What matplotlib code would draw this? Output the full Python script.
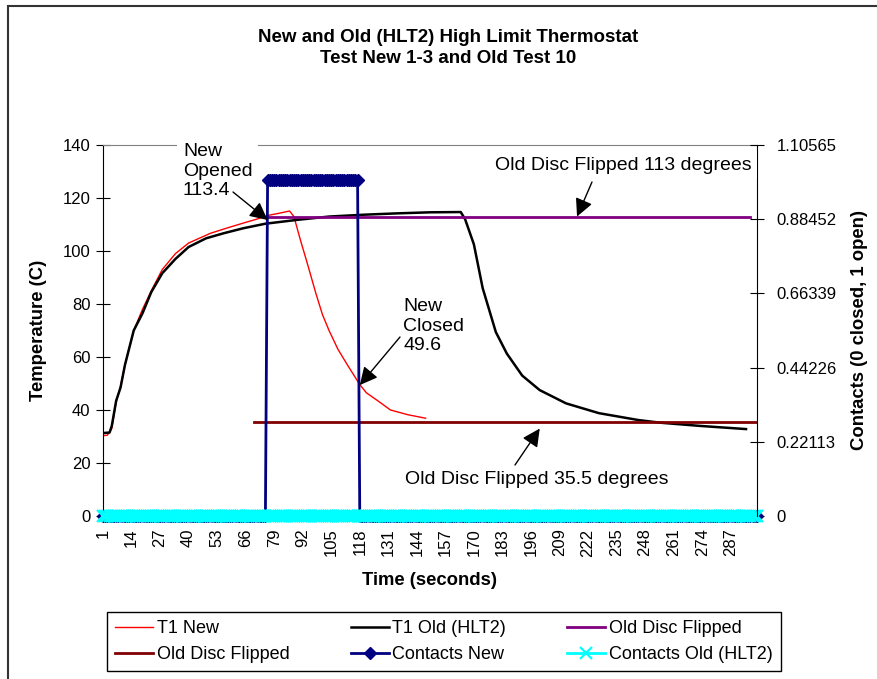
import matplotlib.pyplot as plt
from matplotlib.patches import Rectangle

plt.rcParams['font.family'] = ['Liberation Sans', 'DejaVu Sans']

# T1 New: time (s) and temperature (C)
new_t = [1, 3, 5, 7, 9, 11, 15, 19, 23, 28, 34, 40, 50, 58, 66, 71, 76, 81, 86, 88,
         91, 94, 98, 101, 104, 108, 112, 118, 121, 126, 132, 140, 148]
new_temp = [30.3, 30.5, 33, 43, 49, 57, 70, 78, 85, 93, 99, 103, 106.7, 108.8, 110.8, 112,
            113.4, 114.2, 115.1, 113, 104, 95.6, 84, 76, 70, 63, 57.5, 49.6, 46.5, 43.6,
            40, 38.2, 36.9]

# T1 Old (HLT2)
old_t = [1, 4, 5, 7, 9, 11, 15, 19, 23, 28, 34, 40, 48, 56, 65, 75, 90, 104, 120, 135,
         150, 164, 166, 170, 174, 180, 185, 192, 200, 212, 227, 245, 255, 273, 294]
old_temp = [31.3, 31.5, 34, 43.5, 48.5, 57, 70, 76.5, 84.5, 91.6, 97, 101.5, 104.8, 106.7,
            108.6, 110.3, 111.8, 113, 113.7, 114.2, 114.6, 114.7, 112, 102.5, 86, 69.4,
            61.3, 53, 47.5, 42.5, 38.8, 36.2, 35.2, 34, 32.8]

# contacts, one reading per second (0 closed, 1 open)
seconds = list(range(1, 300))
contacts_new = [0] * 75 + [1] * 42 + [0] * 182
contacts_old = [0] * 299

# old disc flip levels and the seconds they are drawn over
disc_hi = 113.0
disc_hi_span = [76, 296]
disc_lo = 35.5
disc_lo_span = [70, 299]

xticks = list(range(1, 288, 13))
temp_ticks = [0, 20, 40, 60, 80, 100, 120, 140]
contact_ticks = [0, 0.22113, 0.44226, 0.66339, 0.88452, 1.10565]
contact_labels = ['0', '0.22113', '0.44226', '0.66339', '0.88452', '1.10565']

W, H = 878, 679
fig = plt.figure(figsize=(W / 100, H / 100), dpi=100)
ax = fig.add_axes([103 / W, 1 - 516 / H, (757 - 103) / W, (516 - 145) / H])
ax2 = ax.twinx()

l1, = ax.plot(new_t, new_temp, color='#ff0000', lw=1)
l2, = ax.plot(old_t, old_temp, color='black', lw=1.8)
l3, = ax.plot(disc_hi_span, [disc_hi, disc_hi], color='#800080', lw=2)
l4, = ax.plot(disc_lo_span, [disc_lo, disc_lo], color='#800000', lw=2)
l5, = ax2.plot(seconds, contacts_new, color='#000080', lw=2, marker='D', ms=6,
               mfc='#000080', mec='#000080', clip_on=False)
l6, = ax2.plot(seconds, contacts_old, color='#00ffff', lw=2, marker='x', ms=8, mew=1.6,
               clip_on=False)

ax.set_xlim(1, 299)
ax.set_ylim(0, 140)
ax2.set_ylim(0, 1.10565)

ax.set_xticks(xticks)
ax.set_xticklabels([str(t) for t in xticks], rotation=90, fontsize=12)
ax.tick_params(axis='x', length=0, pad=9)
ax.set_yticks(temp_ticks)
ax.tick_params(axis='y', direction='inout', length=10, labelsize=12, pad=4)
ax2.set_yticks(contact_ticks)
ax2.set_yticklabels(contact_labels)
ax2.tick_params(axis='y', direction='inout', length=10, labelsize=12, pad=9)

for s in ['left', 'top', 'bottom']:
    ax2.spines[s].set_visible(False)
ax.spines['right'].set_visible(False)
ax.spines['top'].set_color('#808080')

ax.set_xlabel('Time (seconds)', fontsize=13.3, fontweight='bold', labelpad=11)
ax.set_ylabel('Temperature (C)', fontsize=13.3, fontweight='bold', labelpad=11)
ax2.set_ylabel('Contacts (0 closed, 1 open)', fontsize=13.3, fontweight='bold', labelpad=10)

fig.text(448 / W, 1 - 48 / H, 'New and Old (HLT2) High Limit Thermostat\nTest New 1-3 and Old Test 10',
         ha='center', va='center', fontsize=13.5, fontweight='bold', linespacing=1.35)

# annotations: text boxes and arrows
box = dict(facecolor='white', edgecolor='none', pad=4)
arrow = dict(arrowstyle='-|>,head_length=0.6,head_width=0.3', color='black', lw=1,
             mutation_scale=18, shrinkA=0, shrinkB=0)
notes = [
    ('New\nOpened\n113.4', (183, 143), 'top', (233, 192), (76, 111.7)),
    ('New\nClosed\n49.6', (403, 298), 'top', (400, 337), (118, 49.4)),
    ('Old Disc Flipped 113 degrees', (495, 165), 'center', (592, 182), (217, disc_hi)),
    ('Old Disc Flipped 35.5 degrees', (405, 480), 'center', (515, 465), (200, 33)),
]
for txt, (tx, ty), va, (ax0, ay0), tip in notes:
    ax2.text(tx, H - ty, txt, transform=None, ha='left', va=va, fontsize=14,
             linespacing=1.2, bbox=box, zorder=6)
    ax2.annotate('', xy=tip, xycoords=ax.transData, xytext=(ax0, H - ay0),
                 textcoords='figure pixels', arrowprops=arrow, zorder=7)

handles = [l1, l4, l2, l5, l3, l6]
labels = ['T1 New', 'Old Disc Flipped', 'T1 Old (HLT2)', 'Contacts New',
          'Old Disc Flipped', 'Contacts Old (HLT2)']
fig.legend(handles, labels, ncol=3, loc='upper left', bbox_to_anchor=(107 / W, 1 - 612 / H),
           fontsize=13, frameon=True, fancybox=False, edgecolor='black', framealpha=1,
           borderaxespad=0, borderpad=0.45, labelspacing=0.5, handlelength=2.1,
           handletextpad=0.2, columnspacing=3.4, numpoints=1)

fig.patches.append(Rectangle((8 / W, -0.1), 2, 1.1 - 6 / H, transform=fig.transFigure,
                             fill=False, edgecolor='#333333', lw=1.5))

fig.savefig('out.png', dpi=100)
